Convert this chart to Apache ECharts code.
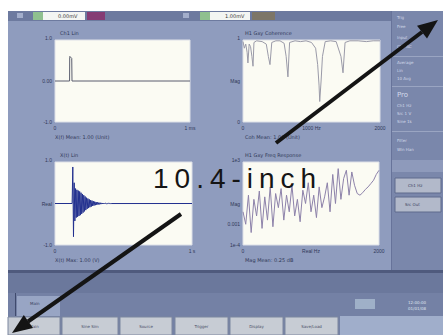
<!DOCTYPE html>
<html>
<head>
<meta charset="utf-8">
<script src="https://cdn.jsdelivr.net/npm/echarts@6/dist/echarts.min.js"></script>
<style>
  html, body { margin: 0; padding: 0; background: #fff; }
  #chart { width: 443px; height: 335px; }
  #chart text[style*="Liberation Sans"], #chart text[font-family*="Liberation Sans"] { letter-spacing: 6px; }
</style>
</head>
<body>
<div id="chart"></div>
<script>
// Ch1 time trace (impulse)
const ch1X = [0, 10.8, 10.9, 11.0, 12.4, 12.6, 100];
const ch1Y = [0, 0, 0.58, 0.6, 0.55, 0, 0];

// H1 coherence
const cohX = [0, 1, 2, 3, 3.6, 4.5, 5.5, 6.5, 7.3, 8, 10, 14, 17, 18.5, 19.7, 21, 24, 27, 30, 31.5, 32.8, 34, 38, 42, 46, 50, 53, 54.5, 55.5, 56, 57, 58, 60, 64, 68, 71.5, 73, 74.5, 78, 84, 90, 95, 100];
const cohY = [0.98, 0.9, 0.95, 0.85, 0.72, 0.95, 0.92, 0.8, 0.68, 0.97, 0.99, 0.98, 0.95, 0.8, 0.7, 0.97, 0.99, 0.99, 0.96, 0.8, 0.55, 0.97, 0.99, 0.98, 0.99, 0.97, 0.9, 0.7, 0.45, 0.25, 0.5, 0.8, 0.98, 0.99, 0.98, 0.8, 0.6, 0.97, 0.99, 0.99, 0.98, 0.99, 0.99];

// X(t) decaying response, sampled every 0.5 from t = 13
const decayStart = 13;
const decayStep = 0.5;
const decayY = [0.88, -0.8, 0.5, -0.42, 0.36, -0.34, 0.33, -0.32, 0.31, -0.3, 0.29, -0.28, 0.26, -0.25, 0.23, -0.22, 0.2, -0.19, 0.17, -0.16, 0.14, -0.13, 0.12, -0.11, 0.1, -0.09, 0.08, -0.075, 0.07, -0.06, 0.055, -0.05, 0.045, -0.04, 0.036, -0.032, 0.028, -0.025, 0.022, -0.02, 0.018, -0.016, 0.014, -0.012, 0.011, -0.01, 0.009, -0.008, 0.007, -0.006, 0.005, -0.004, 0.004, -0.003, 0.003, -0.002, 0.002, -0.001];

// H1 frequency response magnitude
const frfX = [0, 2, 4, 6, 8, 10, 12, 14, 16, 18, 20, 22, 24, 26, 28, 30, 32, 34, 36, 38, 40, 42, 44, 46, 48, 50, 52, 54, 56, 58, 60, 62, 64, 66, 68, 70, 72, 74, 76, 78, 80, 82, 84, 86, 88, 90, 92, 94, 96, 98, 100];
const frfY = [0.4, 0.25, 0.6, 0.15, 0.55, 0.35, 0.65, 0.2, 0.58, 0.3, 0.7, 0.22, 0.62, 0.45, 0.68, 0.3, 0.6, 0.4, 0.72, 0.35, 0.55, 0.28, 0.66, 0.5, 0.75, 0.4, 0.6, 0.33, 0.7, 0.45, 0.58, 0.75, 0.4, 0.85, 0.5, 0.92, 0.55, 0.8, 0.9, 0.6, 0.88, 0.72, 0.62, 0.6, 0.63, 0.67, 0.7, 0.74, 0.78, 0.85, 0.9];

// tick labels
const ch1YLabels = { '-1': '-1.0', '0': '0.00', '1': '1.0' };
const ch1XLabels = { '0': '0', '100': '1 ms' };
const cohYLabels = { '0': '0', '0.5': 'Mag', '1': '1' };
const cohXLabels = { '0': '0', '50': '1000 Hz', '100': '2000' };
const xtYLabels = { '-1': '-1.0', '0': 'Real', '1': '1.0' };
const xtXLabels = { '0': '0', '100': '1 s' };
const frfYLabels = { '0': '1e-4', '0.25': '0.001', '0.5': 'Mag', '1': '1e3' };
const frfXLabels = { '0': '0', '50': 'Real Hz', '100': '2000' };

const titles = ['Ch1 Lin', 'H1 Gxy Coherence', 'X(t) Lin', 'H1 Gxy Freq Response'];
const footers = ['X(f) Mean: 1.00 (Unit)', 'Coh Mean: 1.00 (Unit)', 'X(t) Max: 1.00 (V)', 'Mag Mean: 0.25 dB'];
const sideLabels = ['Trig', 'Free', 'Input', 'Ch1 AC', 'Average', 'Lin', '10 Avg', 'Pro', 'Ch1 Hz', 'Src 1 V', 'Sine 1k', 'Filter', 'Win Han'];
const buttonLabels = ['Main', 'Sine Sim', 'Source', 'Trigger', 'Display', 'Save/Load'];

const pairs = (xs, ys) => xs.map((x, i) => [x, ys[i]]);
const decayData = [[0, 0], [decayStart - 0.5, 0]]
  .concat(decayY.map((y, i) => [decayStart + i * decayStep, y]))
  .concat([[decayStart + decayY.length * decayStep, 0], [100, 0]]);

const labelColor = '#2f3858';
const grids = [
  { left: 55, top: 40, width: 135, height: 82 },
  { left: 243, top: 40, width: 137, height: 82 },
  { left: 55, top: 162, width: 137, height: 83 },
  { left: 243, top: 162, width: 136, height: 83 },
].map(g => ({ ...g, show: true, backgroundColor: '#fbfbf3', borderColor: '#dde0e8', borderWidth: 1 }));

const axisBase = {
  axisLine: { show: false },
  axisTick: { show: false },
  splitLine: { show: false },
};
const xAxis = (i, interval, map) => ({
  ...axisBase, type: 'value', gridIndex: i, min: 0, max: 100, interval,
  axisLabel: { fontSize: 5, color: labelColor, margin: 3, formatter: v => map[String(v)] || '' },
});
const yAxis = (i, min, max, interval, map) => ({
  ...axisBase, type: 'value', gridIndex: i, min, max, interval,
  axisLabel: {
    fontSize: 5, color: labelColor, margin: 3, formatter: v => map[String(v)] || '',
    verticalAlignMaxLabel: 'bottom',
  },
});

const lineSeries = (i, data, color) => ({
  type: 'line', xAxisIndex: i, yAxisIndex: i, data, showSymbol: false,
  lineStyle: { color, width: 1 }, animation: false, silent: true,
});

// screen graphics
const rect = (x, y, w, h, fill, extra = {}) => ({ type: 'rect', z: -10, shape: { x, y, width: w, height: h }, style: { fill, ...extra } });
const txt = (x, y, text, size, fill, extra = {}) => ({ type: 'text', z: -5, x, y, style: { text, fontSize: size, fill, fontFamily: 'DejaVu Sans', ...extra } });

const graphics = [
  rect(8, 11, 435, 324, '#8f9cbe'),
  rect(8, 11, 383, 10, '#6d7a9f'),
  rect(17, 13, 6, 5, '#a3aecb'),
  rect(33, 12, 10, 8, '#8fc08f'),
  rect(43, 12, 42, 8, '#f3f5f2'),
  rect(87, 12, 18, 8, '#853c74'),
  rect(183, 13, 6, 5, '#a3aecb'),
  rect(200, 12, 10, 8, '#8fc08f'),
  rect(210, 12, 40, 8, '#f3f5f2'),
  rect(252, 12, 23, 8, '#7d7668'),
  txt(58, 13, '0.00mV', 5, '#333'),
  txt(225, 13, '1.00mV', 5, '#333'),
  // right side panel
  rect(391, 11, 52, 262, '#7a87ab'),
  rect(391, 11, 1, 262, '#67739a'),
  rect(392, 56, 51, 1, '#9aa5c2'),
  rect(392, 86, 51, 1, '#9aa5c2'),
  rect(392, 131, 51, 1, '#9aa5c2'),
  rect(392, 160, 51, 12, '#8e9abb'),
  rect(395, 178, 46, 15, '#b2b9ca', { stroke: '#5f6b8d', lineWidth: 1 }),
  rect(395, 197, 46, 15, '#b2b9ca', { stroke: '#5f6b8d', lineWidth: 1 }),
  txt(408, 183, 'Ch1 Hz', 4, '#3a4260'),
  txt(405, 202, 'Src Out', 4, '#3a4260'),
  // bottom bars
  rect(8, 270, 435, 3, '#4f5a7d'),
  rect(8, 273, 435, 20, '#6b789c'),
  rect(8, 293, 435, 23, '#7481a5'),
  rect(15, 293, 1, 23, '#3f4a6d'),
  rect(17, 296, 43, 20, '#98a5c4'),
  rect(340, 316, 103, 19, '#a0aecb'),
  rect(8, 316, 332, 19, '#7481a5'),
  txt(30, 301, 'Main', 4, '#3a4260'),
  rect(355, 299, 20, 10, '#9fb0c8'),
  txt(408, 300, '12:00:00', 4, '#dfe4ef'),
  txt(408, 306, '01/01/08', 4, '#dfe4ef'),
];
sideLabels.forEach((s, i) => {
  const ys = [15, 24, 35, 44, 60, 68, 76, 91, 103, 111, 119, 138, 147];
  graphics.push(txt(397, ys[i], s, i === 7 ? 7 : 4, '#d3d9ea'));
});
const btnX = [8, 62, 120, 175, 230, 285];
const btnW = [52, 56, 52, 53, 53, 53];
buttonLabels.forEach((s, i) => {
  graphics.push(rect(btnX[i], 317, btnW[i], 18, '#c7ccd4', { stroke: '#7d879f', lineWidth: 1 }));
  graphics.push(txt(btnX[i] + btnW[i] / 2, 324, s, 4, '#4a5068', { align: 'center' }));
});
// plot titles and footers
const titlePos = [[60, 30], [245, 30], [60, 152], [245, 152]];
const footPos = [[55, 134], [245, 134], [55, 257], [245, 257]];
titles.forEach((t, i) => graphics.push(txt(titlePos[i][0], titlePos[i][1], t, 5, labelColor)));
footers.forEach((t, i) => graphics.push(txt(footPos[i][0], footPos[i][1], t, 5, labelColor)));

// annotation: arrows and size text
const arrow = (x1, y1, x2, y2, head) => [
  { type: 'line', z: 100, shape: { x1, y1, x2, y2 }, style: { stroke: '#141414', lineWidth: 4 } },
  { type: 'polygon', z: 100, shape: { points: head }, style: { fill: '#141414' } },
];
graphics.push(...arrow(276, 143, 422, 32, [[438, 20], [427, 38.5], [417, 25.7]]));
graphics.push(...arrow(181, 214, 28, 321.5, [[12, 333], [33, 328], [23.8, 315]]));
graphics.push({
  type: 'text', z: 110, x: 153, y: 178,
  style: { text: '10.4-inch', fontSize: 28, fontFamily: 'Liberation Sans', fill: '#151515', textVerticalAlign: 'middle' },
});

const chart = echarts.init(document.getElementById('chart'), null, { renderer: 'svg' });
chart.setOption({
  animation: false,
  grid: grids,
  xAxis: [xAxis(0, 100, ch1XLabels), xAxis(1, 50, cohXLabels), xAxis(2, 100, xtXLabels), xAxis(3, 50, frfXLabels)],
  yAxis: [
    yAxis(0, -1, 1, 1, ch1YLabels),
    yAxis(1, 0, 1, 0.5, cohYLabels),
    yAxis(2, -1, 1, 1, xtYLabels),
    yAxis(3, 0, 1, 0.25, frfYLabels),
  ],
  series: [
    lineSeries(0, pairs(ch1X, ch1Y), '#5a5d6e'),
    lineSeries(1, pairs(cohX, cohY), '#9a9aa8'),
    lineSeries(2, decayData, '#22308f'),
    lineSeries(3, pairs(frfX, frfY), '#8d82aa'),
  ],
  graphic: graphics,
});
</script>
</body>
</html>
